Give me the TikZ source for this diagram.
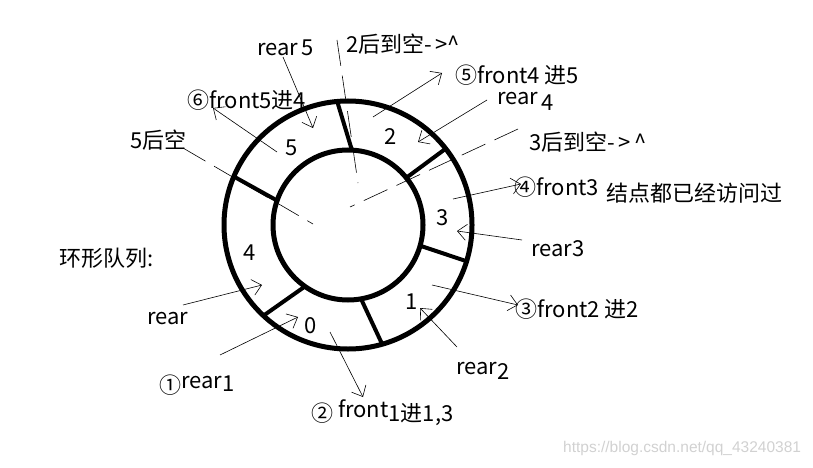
\documentclass[tikz,border=0pt]{standalone}
\usepackage{fontspec}
\setmainfont{Noto Sans CJK SC}
\newfontfamily\urlfont{Liberation Sans}
\usetikzlibrary{arrows.meta,calc}

\begin{document}
\begin{tikzpicture}[
    x=1pt,y=-1pt,
    font=\fontsize{22}{25}\selectfont,
    ring/.style={line width=5pt},
    spoke/.style={line width=4pt},
    ptr/.style={line width=0.6pt,-{Straight Barb[length=9pt,width=16pt,line width=0.6pt]}},
    gap/.style={line width=0.6pt,dash pattern=on 26pt off 10pt},
    lbl/.style={anchor=west,inner sep=0pt}
]
\useasboundingbox (0,0) rectangle (813,468);

% the ring with its six cells
\coordinate (c) at (348,225);
\draw[ring] (c) circle[radius=124];
\draw[ring] (c) circle[radius=75];
\foreach \i/\o in {-87/-95,-39/-38,16/17,80/74,125/133,-161/-157}
    \draw[spoke] ($(c)+(\i:75)$) -- ($(c)+(\o:124)$);

\node (cell0) at (311,326) {0};
\node (cell1) at (412,302) {1};
\node (cell2) at (391,137) {2};
\node (cell3) at (443,218) {3};
\node (cell4) at (250,253) {4};
\node (cell5) at (292,148) {5};

% labels
\node[lbl] (rear5) at (257,48) {rear\,5};
\node[lbl] (null2) at (346,44) {2后到空-\,>\textasciicircum};
\node[lbl] (front4) at (455,75) {⑤front4 进5};
\node[lbl] (front5) at (187,100) {⑥front5进4};
\node[lbl] (rear4) at (497,101) {rear\,\raisebox{-6pt}{4}};
\node[lbl] (empty5) at (130,140) {5后空};
\node[lbl] (null3) at (529,142) {3后到空-\,>\,\textasciicircum};
\node[lbl] (front3) at (514,187) {④front3};
\node[lbl] (visited) at (606,193) {结点都已经访问过};
\node[lbl] (title) at (59,258) {环形队列:};
\node[lbl] (rear3) at (531,249) {rear3};
\node[lbl] (rear) at (147,319) {rear};
\node[lbl] (front2) at (515,309) {③front2 进2};
\node[lbl] (rear1) at (159,385) {①\raisebox{5pt}{rear}\raisebox{2pt}{1}};
\node[lbl] (rear2) at (456,371) {rear\raisebox{-5pt}{2}};
\node[lbl] (front1) at (311,413) {② \raisebox{4pt}{front}1进1,3};
\node[lbl,text=black!18] (url) at (563,448) {\urlfont\fontsize{15.5}{17}\selectfont https://blog.csdn.net/qq\_43240381};

% pointer ends
\coordinate (t1) at (283,57);  \coordinate (h1) at (313,128);
\coordinate (t2) at (277,152); \coordinate (h2) at (213,108);
\coordinate (t3) at (373,117); \coordinate (h3) at (442,73);
\coordinate (t4) at (487,100); \coordinate (h4) at (418,142);
\coordinate (t5) at (453,199); \coordinate (h5) at (521,184);
\coordinate (t6) at (522,240); \coordinate (h6) at (457,231);
\coordinate (t7) at (432,285); \coordinate (h7) at (518,305);
\coordinate (t8) at (457,347); \coordinate (h8) at (420,308);
\coordinate (t9) at (330,332); \coordinate (h9) at (363,397);
\coordinate (t10) at (183,305); \coordinate (h10) at (262,285);
\coordinate (t11) at (220,355); \coordinate (h11) at (298,317);

\foreach \k in {1,...,11}
    \draw[ptr] (t\k) -- (h\k);

% links to null
\coordinate (n2) at (337,40);  \coordinate (m2) at (358,183);
\coordinate (n3) at (518,129); \coordinate (m3) at (350,207);
\coordinate (n5) at (183,148); \coordinate (m5) at (313,224);
\draw[gap] (n2) -- (m2);
\draw[gap] (n3) -- (m3);
\draw[gap] (n5) -- (m5);

\end{tikzpicture}
\end{document}
